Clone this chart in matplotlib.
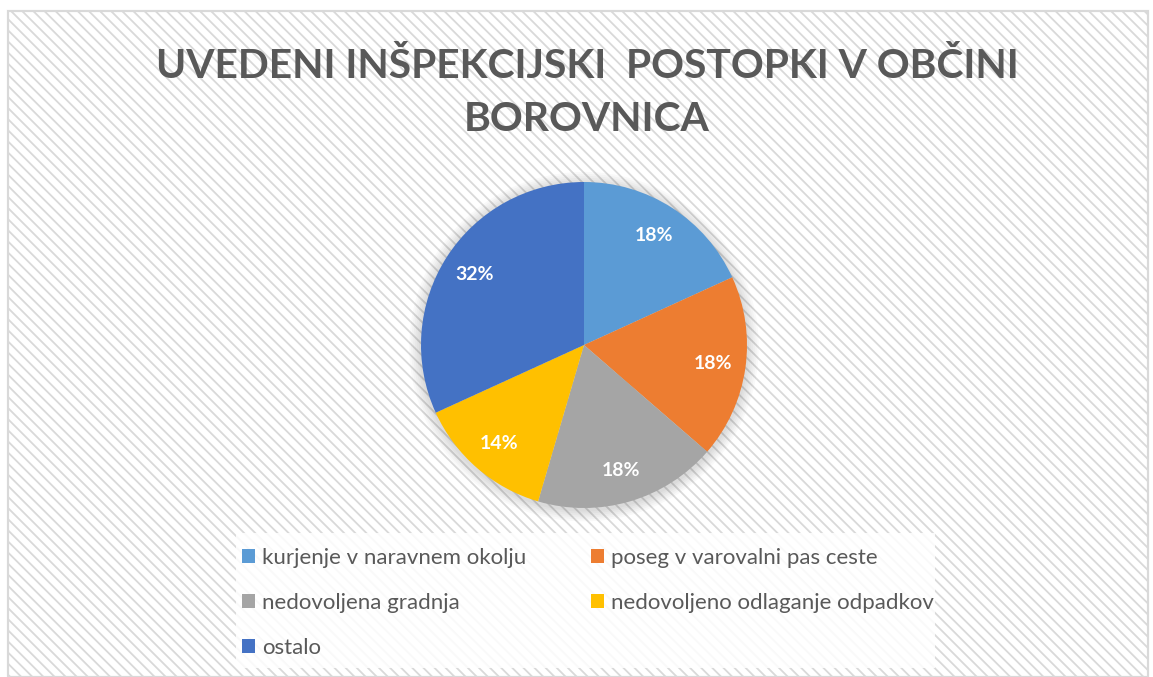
import matplotlib
matplotlib.use("Agg")
import matplotlib.pyplot as plt
from matplotlib.patches import Rectangle, Circle

labels = ["kurjenje v naravnem okolju", "poseg v varovalni pas ceste",
          "nedovoljena gradnja", "nedovoljeno odlaganje odpadkov", "ostalo"]
counts = [4, 4, 4, 3, 7]
colors = ["#5B9BD5", "#ED7D31", "#A5A5A5", "#FFC000", "#4472C4"]
title = "UVEDENI INŠPEKCIJSKI  POSTOPKI V OBČINI\nBOROVNICA"

plt.rcParams['font.family'] = ['Lato', 'DejaVu Sans']
plt.rcParams['hatch.color'] = '#f6f6f6'
plt.rcParams['hatch.linewidth'] = 1.3

W, H = 1153, 677
fig = plt.figure(figsize=(W / 100, H / 100), dpi=100)

# striped chart area with light border
bg = Rectangle((8 / W, 0), (1148 - 8) / W, (H - 11) / H, transform=fig.transFigure,
               facecolor='white', edgecolor='#d9d9d9', linewidth=1.5,
               hatch='\\\\\\', zorder=0)
fig.patches.append(bg)
border = Rectangle((8 / W, 0), (1148 - 8) / W, (H - 11) / H, transform=fig.transFigure,
                   facecolor='none', edgecolor='#d9d9d9', linewidth=1.5, zorder=0.5)
fig.patches.append(border)

# whiter legend area
leg_bg = Rectangle((236 / W, (H - 668) / H), (935 - 236) / W, (668 - 533) / H,
                   transform=fig.transFigure, facecolor='white', alpha=0.85,
                   edgecolor='none', zorder=1)
fig.patches.append(leg_bg)

fig.text(587 / W, 1 - 93 / H, title, ha='center', va='center', fontsize=29.3,
         fontweight='bold', color='#595959', linespacing=1.55, zorder=3)

cx, cy, r = 584, 345, 163
ax = fig.add_axes([(cx - r) / W, (H - cy - r) / H, 2 * r / W, 2 * r / H])
ax.set_zorder(2)
ax.patch.set_visible(False)

# soft shadow
for k in range(6):
    ax.add_patch(Circle((0.0, -0.01), 1.0 + 0.012 * (k + 1), color='#000000',
                        alpha=0.022, zorder=0, linewidth=0, clip_on=False))

wedges, texts, autotexts = ax.pie(counts, colors=colors, startangle=90, counterclock=False,
                                  autopct='%1.0f%%', pctdistance=0.8, radius=1.0,
                                  wedgeprops=dict(linewidth=0),
                                  textprops=dict(color='white', fontsize=14, fontweight='bold'))
ax.set_aspect('auto')
ax.set_xlim(-1, 1)
ax.set_ylim(-1, 1)
ax.axis('off')

order = [0, 2, 4, 1, 3]
leg = fig.legend([wedges[i] for i in order], [labels[i] for i in order], ncol=2,
                 loc='upper left', bbox_to_anchor=(242 / W, 1 - 548 / H), frameon=False,
                 borderpad=0, borderaxespad=0,
                 fontsize=16, labelcolor='#595959', handlelength=0.6, handleheight=0.6,
                 handletextpad=0.3, columnspacing=2.9, labelspacing=1.12)
leg.set_zorder(3)

fig.savefig("out.png", dpi=100)
